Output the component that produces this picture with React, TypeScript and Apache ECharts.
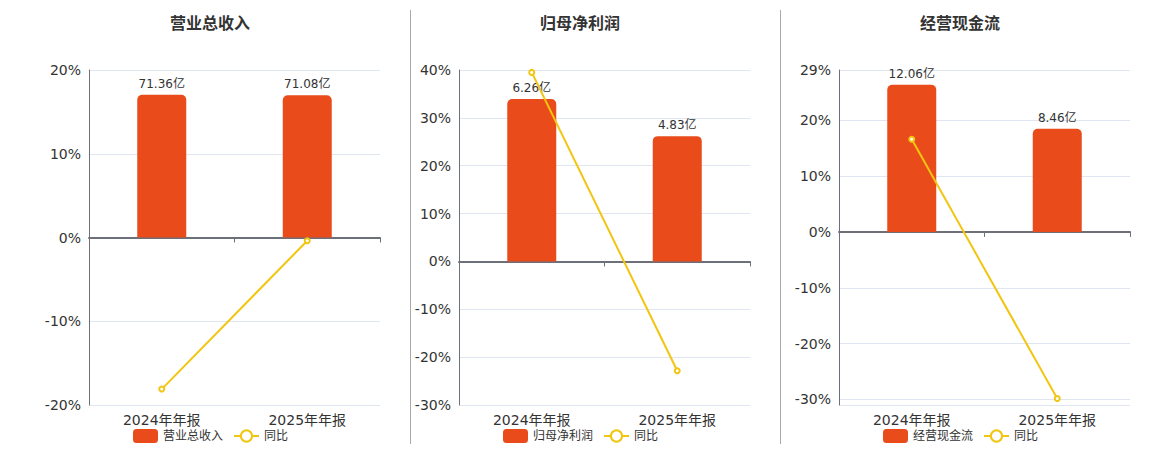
import React, { useEffect, useRef } from "react";
import * as echarts from "echarts";

const categories = ["2024年年报", "2025年年报"];
const panelTitles = ["营业总收入", "归母净利润", "经营现金流"];
const barValues1 = [71.36, 71.08];
const barValues2 = [6.26, 4.83];
const barValues3 = [12.06, 8.46];
const yoy1 = [-18.1, -0.39];
const yoy2 = [39.5, -22.84];
const yoy3 = [16.6, -29.85];
const yoyName = "同比";
const unit = "亿";

const BAR_COLOR = "#E94B1B";
const LINE_COLOR = "#F2C511";
const FONT = "'DejaVu Sans', 'Noto Sans CJK SC', sans-serif";

export default function App() {
  const ref = useRef<HTMLDivElement>(null);
  useEffect(() => {
    document.body.style.margin = "0";
    if (!ref.current) return;
    const chart = echarts.init(ref.current, undefined, { renderer: "svg" });
    const barSets = [barValues1, barValues2, barValues3];
    const yoySets = [yoy1, yoy2, yoy3];
    const grids = [
      { left: 89, right: 780, top: 70, bottom: 45 },
      { left: 459, right: 410, top: 70, bottom: 45 },
      { left: 839, right: 30, top: 70, bottom: 45 },
    ];
    const pctAxes: any[] = [
      { min: -20, max: 20, interval: 10 },
      { min: -30, max: 40, interval: 10 },
      { min: -31, max: 29, showMin: false },
    ];
    const barAxes = [
      { min: -83.7, max: 83.7 },
      { min: -5.535, max: 7.38 },
      { min: -14.19, max: 13.27 },
    ];
    const centers = [205, 575, 955];
    const legendLefts = [128, 498, 878];

    const xAxis: any[] = [];
    const yAxis: any[] = [];
    const series: any[] = [];
    const title: any[] = [];
    const legend: any[] = [];
    for (let i = 0; i < 3; i++) {
      xAxis.push({
        type: "category",
        gridIndex: i,
        data: categories,
        axisLine: { onZero: true, lineStyle: { color: "#6E7079", width: 2 } },
        axisTick: { show: true, length: 5, lineStyle: { color: "#6E7079" } },
        axisLabel: { color: "#333", fontSize: 14, margin: 8 },
      });
      const p = pctAxes[i];
      yAxis.push({
        type: "value",
        gridIndex: i,
        min: p.min,
        max: p.max,
        ...(p.interval ? { interval: p.interval } : {}),
        axisLabel: {
          color: "#333",
          fontSize: 14,
          showMinLabel: p.showMin === false ? false : true,
          formatter: (v: number) => Math.round(v) + "%",
        },
        axisLine: { show: true, lineStyle: { color: "#6E7079" } },
        axisTick: { show: false },
        splitLine: { lineStyle: { color: "#E0E6F1" } },
      });
      yAxis.push({
        type: "value",
        gridIndex: i,
        min: barAxes[i].min,
        max: barAxes[i].max,
        show: false,
        splitLine: { show: false },
      });
      series.push({
        name: panelTitles[i],
        type: "bar",
        xAxisIndex: i,
        yAxisIndex: i * 2 + 1,
        data: barSets[i],
        barWidth: 49,
        itemStyle: { color: BAR_COLOR, borderRadius: [5, 5, 0, 0] },
        label: {
          show: true,
          position: "top",
          color: "#333",
          fontSize: 12,
          distance: 5,
          formatter: (prm: any) => prm.value + unit,
        },
      });
      series.push({
        name: yoyName,
        type: "line",
        xAxisIndex: i,
        yAxisIndex: i * 2,
        data: yoySets[i],
        symbol: "emptyCircle",
        symbolSize: 5,
        lineStyle: { color: LINE_COLOR, width: 2 },
        itemStyle: { color: LINE_COLOR },
        z: 5,
      });
      title.push({
        text: panelTitles[i],
        left: centers[i],
        textAlign: "center",
        top: 10,
        textStyle: { fontSize: 16, fontWeight: "bold", color: "#333", fontFamily: FONT },
      });
      legend.push({
        left: legendLefts[i],
        top: 424,
        data: [panelTitles[i], yoyName],
        textStyle: { color: "#333", fontSize: 12, fontFamily: FONT },
        itemWidth: 25,
        itemHeight: 14,
        itemGap: 10,
      });
    }
    chart.setOption({
      animation: false,
      textStyle: { fontFamily: FONT },
      title,
      legend,
      grid: grids,
      xAxis,
      yAxis,
      series,
      graphic: [
        { type: "line", shape: { x1: 410.5, y1: 10, x2: 410.5, y2: 444 }, style: { stroke: "#aaa", lineWidth: 1 } },
        { type: "line", shape: { x1: 780.5, y1: 10, x2: 780.5, y2: 444 }, style: { stroke: "#aaa", lineWidth: 1 } },
      ],
    });
    return () => chart.dispose();
  }, []);
  return <div ref={ref} style={{ width: 1160, height: 450 }} />;
}
